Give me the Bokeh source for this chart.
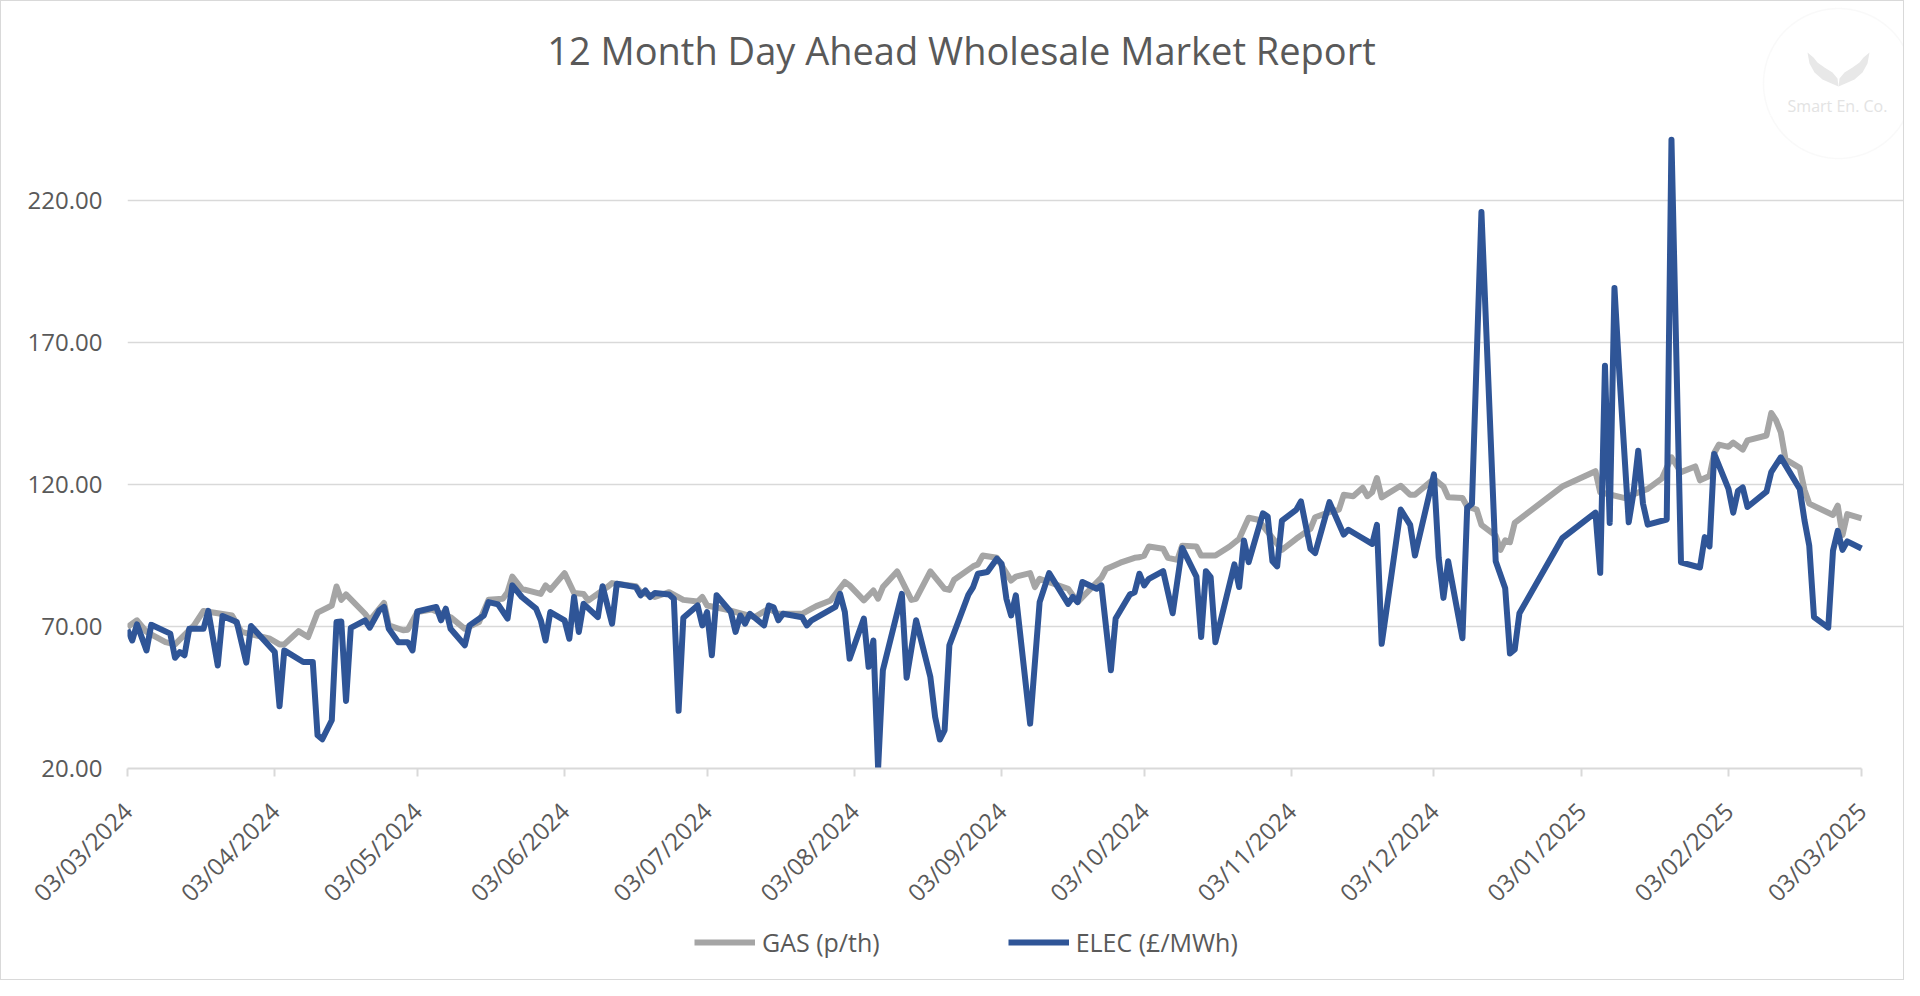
import math
import numpy as np
import pandas as pd
from bokeh.plotting import figure
from bokeh.layouts import column
from bokeh.models import (FixedTicker, DatetimeTickFormatter, Range1d, Legend, LegendItem,
                          Label, ColumnDataSource, PolyAnnotation)
from bokeh.embed import file_html
from bokeh.resources import INLINE

START_DATE = "2024-03-03"

# days after START_DATE and values
elec_day = [0, 1, 2, 4, 5, 9, 10, 11, 12, 13, 16, 17, 19, 20, 23, 25, 26, 31, 32, 33, 37, 39, 40, 41, 43, 44, 45,
            46, 47, 50, 51, 53, 54, 55, 57, 59, 60, 61, 65, 66, 67, 68, 71, 72, 75, 76, 78, 80, 81, 83, 86, 87, 88,
            89, 92, 93, 94, 95, 96, 99, 100, 102, 103, 107, 108, 109, 110, 111, 114, 115, 116, 117, 120, 121, 122,
            123, 124, 127, 128, 129, 130, 131, 134, 135, 136, 137, 138, 142, 143, 144, 149, 150, 151, 152, 155, 156,
            157, 158, 159, 163, 164, 166, 169, 170, 171, 172, 173, 177, 178, 179, 181, 183, 184, 185, 186, 187, 190,
            192, 194, 198, 199, 200, 201, 204, 205, 207, 208, 211, 212, 213, 214, 215, 218, 220, 222, 225, 226, 227,
            228, 229, 233, 234, 235, 236, 239, 240, 241, 242, 243, 246, 247, 249, 250, 253, 256, 257, 260, 262, 263,
            264, 268, 270, 271, 275, 276, 277, 278, 281, 282, 283, 285, 288, 290, 291, 292, 293, 302, 309, 310, 311,
            312, 313, 314, 316, 317, 318, 319, 320, 324, 325, 327, 331, 332, 333, 334, 337, 338, 339, 340, 341, 345,
            346, 348, 352, 353, 354, 355, 358, 359, 360, 361, 362, 365]
elec_val = [68.9, 65.1, 70.8, 61.6, 70.6, 67.5, 59.0, 61.0, 59.9, 69.2, 69.2, 75.5, 56.3, 73.7, 71.6, 57.3, 70.2,
            61.0, 41.9, 61.6, 57.5, 57.5, 31.7, 30.3, 37.0, 71.6, 71.8, 43.8, 69.5, 72.2, 69.6, 75.7, 76.9, 69.2,
            64.5, 64.5, 61.6, 75.3, 76.9, 72.2, 76.3, 69.2, 63.4, 70.4, 73.9, 78.6, 77.8, 72.8, 84.5, 80.4, 76.3,
            72.2, 65.1, 75.1, 72.2, 65.7, 80.4, 68.1, 78.0, 73.3, 84.2, 71.0, 85.1, 83.9, 81.0, 82.7, 80.4, 81.8,
            81.3, 79.8, 40.3, 73.1, 77.4, 70.4, 75.1, 59.9, 81.0, 75.1, 68.1, 73.9, 71.0, 74.5, 70.4, 77.4, 76.8,
            72.2, 74.5, 73.3, 70.4, 72.2, 76.9, 81.5, 75.1, 58.7, 72.8, 55.8, 65.1, 20.0, 54.6, 81.5, 52.0, 72.2,
            52.2, 38.2, 30.2, 33.5, 63.4, 81.2, 83.9, 88.6, 89.2, 93.9, 92.1, 79.8, 73.9, 81.0, 35.8, 78.6, 88.8,
            78.0, 80.4, 78.6, 85.7, 83.3, 84.5, 54.6, 72.8, 81.3, 82.1, 88.6, 84.5, 86.8, 89.5, 74.7, 97.7, 87.6,
            66.3, 89.5, 87.4, 64.5, 91.9, 83.9, 100.3, 92.7, 109.9, 108.8, 93.0, 91.2, 107.3, 111.1, 114.1, 97.4,
            95.9, 113.8, 102.4, 104.1, 101.1, 99.1, 105.8, 63.9, 111.2, 105.8, 95.0, 123.6, 94.3, 80.1, 93.0, 65.9,
            111.9, 113.2, 216.0, 93.0, 83.5, 60.5, 61.9, 74.7, 101.1, 110.1, 88.9, 161.9, 106.5, 189.2, 160.0,
            106.7, 117.0, 131.9, 113.3, 105.9, 107.7, 241.5, 92.6, 90.8, 101.5, 98.2, 130.8, 118.5, 110.1, 117.8,
            119.0, 112.1, 117.5, 124.4, 129.6, 118.5, 107.4, 98.5, 73.3, 69.6, 96.7, 103.7, 97.0, 100.0, 97.5]

gas_day = [0, 2, 4, 8, 10, 14, 16, 22, 24, 30, 32, 33, 36, 38, 40, 43, 44, 45, 46, 50, 51, 54, 55, 58, 59, 61, 64,
           68, 71, 74, 76, 79, 80, 81, 83, 87, 88, 89, 92, 94, 96, 97, 101, 102, 107, 108, 111, 114, 117, 120, 121,
           122, 126, 132, 135, 137, 142, 144, 145, 148, 151, 152, 155, 157, 158, 159, 162, 165, 166, 169, 172, 173,
           174, 178, 179, 180, 183, 186, 187, 190, 191, 192, 198, 200, 205, 206, 209, 212, 213, 214, 215, 218, 219,
           221, 222, 225, 226, 229, 232, 234, 236, 238, 243, 246, 249, 250, 253, 255, 256, 258, 260, 261, 262, 263,
           264, 268, 270, 271, 275, 277, 278, 281, 282, 284, 285, 288, 289, 290, 291, 292, 302, 309, 310, 315, 320,
           323, 325, 327, 330, 331, 333, 334, 335, 337, 338, 340, 341, 345, 346, 347, 348, 349, 352, 353, 354, 359,
           360, 361, 362, 365]
gas_val = [69.8, 72.2, 68.1, 64.5, 63.7, 70.4, 75.5, 73.9, 68.1, 65.7, 63.7, 63.7, 68.4, 66.3, 74.9, 77.4, 84.1,
           79.4, 81.3, 74.5, 72.2, 78.3, 70.4, 68.7, 68.9, 75.1, 76.0, 73.3, 69.2, 71.6, 79.4, 79.8, 82.1, 87.6,
           83.3, 81.5, 84.5, 82.9, 88.8, 81.8, 81.5, 79.2, 83.9, 85.3, 84.2, 82.1, 80.4, 82.1, 79.4, 78.8, 80.4,
           77.4, 76.0, 73.3, 76.3, 74.5, 74.5, 76.3, 77.2, 79.2, 85.7, 84.5, 79.2, 82.7, 79.8, 83.9, 89.4, 79.4,
           79.8, 89.4, 83.3, 82.9, 86.5, 91.2, 91.9, 95.0, 94.2, 86.2, 87.6, 88.8, 83.9, 86.8, 83.3, 78.6, 87.2,
           90.3, 92.5, 94.2, 94.4, 95.0, 98.2, 97.4, 94.2, 93.5, 98.5, 98.2, 95.0, 95.0, 98.2, 100.9, 108.3, 107.6,
           97.0, 100.9, 104.4, 108.5, 110.3, 111.2, 116.4, 115.9, 118.9, 115.9, 117.3, 122.3, 115.5, 119.6, 116.4,
           116.4, 122.0, 119.3, 115.5, 115.3, 112.3, 111.2, 105.8, 102.0, 97.0, 100.4, 99.7, 106.5, 119.3, 124.7,
           117.3, 115.3, 118.5, 122.2, 129.6, 124.4, 126.4, 121.5, 123.0, 131.1, 134.1, 133.3, 134.8, 132.3, 135.6,
           137.3, 145.2, 142.7, 138.5, 128.9, 125.9, 118.1, 113.3, 109.3, 112.6, 102.2, 109.6, 108.1]

x_tick_labels = ["03/03/2024", "03/04/2024", "03/05/2024", "03/06/2024", "03/07/2024", "03/08/2024",
                 "03/09/2024", "03/10/2024", "03/11/2024", "03/12/2024", "03/01/2025", "03/02/2025", "03/03/2025"]
y_ticks = [20, 70, 120, 170, 220]
y_tick_labels = ["20.00", "70.00", "120.00", "170.00", "220.00"]

TITLE = "12 Month Day Ahead Wholesale Market Report"
SERIES_NAMES = ["GAS (p/th)", "ELEC (£/MWh)"]
LOGO_TEXT = "Smart En. Co."

start = pd.Timestamp(START_DATE)
elec_dates = start + pd.to_timedelta(elec_day, unit="D")
gas_dates = start + pd.to_timedelta(gas_day, unit="D")
tick_ts = pd.to_datetime(x_tick_labels, format="%d/%m/%Y")
to_ms = lambda t: float((t - pd.Timestamp("1970-01-01")) / pd.Timedelta("1ms"))
tick_ms = [to_ms(t) for t in tick_ts]

src_gas = ColumnDataSource(dict(date=gas_dates, value=gas_val))
src_elec = ColumnDataSource(dict(date=elec_dates, value=elec_val))

FONT = "Open Sans"
TXT = "#595959"
GAS_COLOR = "#A5A5A5"
ELEC_COLOR = "#2F5597"
LOGO_COLOR = "#E3E3E3"
RING_COLOR = "#EBEBEB"
W = 1902
H_HEAD, H_MAIN, H_LEG = 114, 808, 56
LEFT = 126          # shared left border of all three stacked plots (frames are aligned)
FRAME_X0 = LEFT + 1  # page x of the frames' left edge
PLOT_RIGHT_PAGE = 1861  # page x where the chart's time axis ends

# logo ring geometry in page pixels
ring_cx, ring_cy, ring_r = 1838, 83, 75
ang = np.linspace(0, 2 * np.pi, 181)
ring_px = ring_cx + ring_r * np.cos(ang)
ring_py = ring_cy - ring_r * np.sin(ang)
# logo "hands" outline (left one; the right one is its mirror image), page pixels
hand_px = np.array([1807, 1809, 1814, 1822, 1831, 1838, 1837, 1832, 1824, 1817, 1813])
hand_py = np.array([52, 63, 72, 79, 83, 86, 78, 72, 67, 62, 57])


def bare(fig):
    fig.outline_line_color = None
    fig.background_fill_color = "white"
    fig.border_fill_color = "white"
    fig.xgrid.visible = False
    fig.ygrid.visible = False
    return fig


# ---------- header: title + watermark ----------
head = bare(figure(width=W, height=H_HEAD, x_range=Range1d(0, 1), y_range=Range1d(0, 1),
                   x_axis_location=None, y_axis_location=None, min_border=0, min_border_left=LEFT,
                   output_backend="svg", toolbar_location=None))
head.add_layout(Label(x=961 - FRAME_X0, y=66, x_units="screen", y_units="screen", text=TITLE,
                      text_font=FONT, text_font_size="38px", text_color=TXT,
                      text_align="center", text_baseline="middle"))
head.add_layout(PolyAnnotation(xs=list(ring_px - FRAME_X0), ys=list(H_HEAD + 1 - ring_py),
                               xs_units="screen", ys_units="screen", fill_alpha=0,
                               line_color=RING_COLOR, line_width=1.5))
for hx in (hand_px, 2 * ring_cx - hand_px):
    head.add_layout(PolyAnnotation(xs=list(hx - FRAME_X0), ys=list(H_HEAD + 1 - hand_py),
                                   xs_units="screen", ys_units="screen", fill_color="#E8E8E8",
                                   fill_alpha=1, line_color=None))
head.add_layout(Label(x=1837 - FRAME_X0, y=10, x_units="screen", y_units="screen", text=LOGO_TEXT,
                      text_font=FONT, text_font_size="16px", text_color=LOGO_COLOR,
                      text_align="center", text_baseline="middle"))

# ---------- main chart ----------
x_end_days = (W + 1 - PLOT_RIGHT_PAGE) * 365.0 / (PLOT_RIGHT_PAGE - FRAME_X0)
x_end = tick_ts[-1] + pd.Timedelta(days=x_end_days)
p = figure(width=W, height=H_MAIN, x_axis_type="datetime",
           x_range=Range1d(tick_ts[0], x_end), y_range=Range1d(20, 250),
           output_backend="svg", toolbar_location=None, title=None,
           min_border_left=LEFT, min_border_right=0, min_border_top=0, min_border_bottom=155)
p.outline_line_color = None
p.background_fill_color = "white"
p.border_fill_color = "white"

p.xgrid.visible = False
p.ygrid.grid_line_color = "#D9D9D9"
p.ygrid.grid_line_width = 1.5
p.ygrid.bounds = (tick_ms[0], tick_ms[-1])

ya = p.yaxis[0]
ya.ticker = FixedTicker(ticks=y_ticks, minor_ticks=[])
ya.major_label_overrides = {t: l for t, l in zip(y_ticks, y_tick_labels)}
ya.axis_line_color = None
ya.major_tick_line_color = None
ya.minor_tick_line_color = None
ya.major_label_text_font = FONT
ya.major_label_text_font_size = "24px"
ya.major_label_text_color = TXT
ya.major_label_standoff = 19

xa = p.xaxis[0]
xa.ticker = FixedTicker(ticks=tick_ms, minor_ticks=[])
xa.bounds = (tick_ms[0], tick_ms[-1])
fmt = "%d/%m/%Y"
xa.formatter = DatetimeTickFormatter(milliseconds=fmt, seconds=fmt, minsec=fmt, minutes=fmt, hourmin=fmt,
                                     hours=fmt, days=fmt, months=fmt, years=fmt)
xa.major_label_orientation = math.pi / 4
xa.axis_line_color = "#D9D9D9"
xa.axis_line_width = 2
xa.major_tick_line_color = "#D9D9D9"
xa.major_tick_line_width = 2
xa.major_tick_out = 8
xa.major_tick_in = 0
xa.minor_tick_line_color = None
xa.major_label_text_font = FONT
xa.major_label_text_font_size = "24px"
xa.major_label_text_color = TXT
xa.major_label_standoff = 30

p.line(x="date", y="value", source=src_gas, line_color=GAS_COLOR, line_width=6, line_join="round")
p.line(x="date", y="value", source=src_elec, line_color=ELEC_COLOR, line_width=6, line_join="round")

# lower part of the watermark ring that overlaps the chart area (frame-relative, y up)
p.add_layout(PolyAnnotation(xs=list(ring_px - FRAME_X0), ys=list(768 - ring_py),
                            xs_units="screen", ys_units="screen", fill_alpha=0,
                            line_color=RING_COLOR, line_width=1.5))

# ---------- legend strip ----------
leg = bare(figure(width=W, height=H_LEG, x_range=Range1d(0, 1), y_range=Range1d(0, 1),
                  x_axis_location=None, y_axis_location=None, min_border=0, min_border_left=LEFT,
                  output_backend="svg", toolbar_location=None))
# legend keys only: the renderers hold no visible data
lg_gas = leg.line(x=[np.nan], y=[np.nan], line_color=GAS_COLOR, line_width=6)
lg_elec = leg.line(x=[np.nan], y=[np.nan], line_color=ELEC_COLOR, line_width=6)
legend = Legend(items=[LegendItem(label=SERIES_NAMES[0], renderers=[lg_gas]),
                       LegendItem(label=SERIES_NAMES[1], renderers=[lg_elec])],
                orientation="horizontal", location=(694 - FRAME_X0, 20), border_line_color=None,
                background_fill_alpha=0, label_text_font=FONT, label_text_font_size="25px",
                label_text_color=TXT, glyph_width=61, glyph_height=24, label_standoff=7,
                spacing=128, padding=0, margin=0)
leg.add_layout(legend)

page = column(head, p, leg, spacing=0)
page.styles = {"border": "1px solid #D9D9D9"}

open("out.html", "w").write(file_html(page, INLINE))
